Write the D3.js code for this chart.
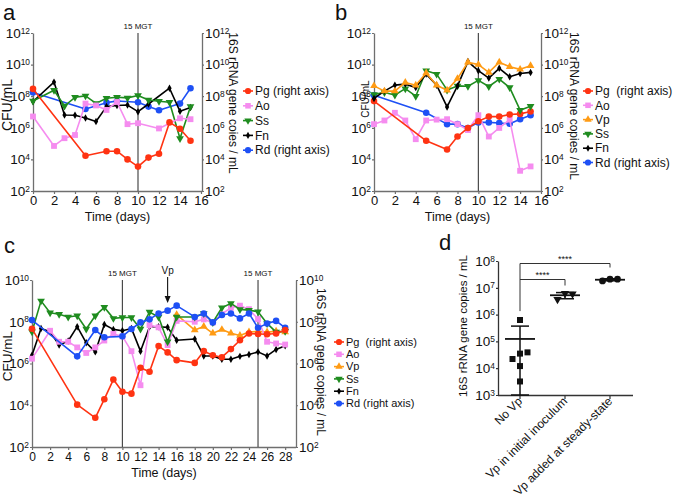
<!DOCTYPE html>
<html><head><meta charset="utf-8">
<script src="https://cdn.jsdelivr.net/npm/d3@7"></script>
<style>body{margin:0;background:#fff} svg{display:block} text{font-family:"Liberation Sans",Arial,Helvetica,sans-serif}</style>
</head><body><svg id="chart" width="674" height="499"></svg>
<script>
// ---------- Panel a ----------
const aPgDays = [0,5,7,8,9,10,11,12,13,14,15];
const aPgVals = [2.9e8,1.7e4,3.3e4,3.3e4,1.0e4,3.5e3,1.3e4,2.3e4,2.2e6,8.7e5,1.5e5];
const aAoDays = [0,2,3,4,5,6,7,8,9,10,12,14,15];
const aAoVals = [5.2e6,7.1e4,2.2e5,3.5e5,3.4e7,2.6e7,1.35e7,4.3e7,1.7e6,1.95e6,9.1e5,4.0e6,3.5e6];
const aSsDays = [0,2,3,4,5,6,7,8,9,10,11,12,13,14,15];
const aSsVals = [5.0e7,2.4e8,2.4e7,8.5e7,1.05e8,3.5e7,7.4e7,8.5e7,7.8e7,1.1e8,5.8e7,4.8e7,4.1e7,2.1e5,2.2e7];
const aFnDays = [0,2,3,4,5,6,7,8,9,10,11,13,14,15];
const aFnVals = [4.6e7,7.8e8,6.5e6,6.2e6,4.2e6,2.5e6,2.2e7,2.6e7,2.75e7,1.05e7,3.2e7,3.2e8,1.1e7,1.9e7];
const aRdDays = [0,5,7,8,10,11,12,14,15];
const aRdVals = [1.7e8,1.55e7,3.9e7,5.0e7,4.1e7,2.2e7,1.3e7,3.4e7,3.2e8];
const aLegend = ["Pg (right axis)","Ao","Ss","Fn","Rd (right axis)"];

// ---------- Panel b ----------
const bDays = [0,1,2,3,4,5,6,7,8,9,10,11,12,13,14,15];
const bVpVals = [4.5e8,2.1e8,2.1e8,7.4e8,5.0e8,2.9e9,5.0e8,2.4e8,1.3e9,1.4e10,1.0e10,3.2e9,1.4e10,7.4e9,5.0e9,8.5e9];
const bFnVals = [7.2e7,2.1e8,5.0e8,5.8e8,3.5e8,2.5e9,5.0e8,2.1e7,4.5e8,1.55e10,4.1e9,1.4e9,5.8e9,1.7e9,2.75e9,3.2e9];
const bSsVals = [1.3e8,1.7e8,1.2e8,3.0e8,1.0e8,4.1e9,2.5e9,2.5e8,4.5e8,4.3e8,1.0e9,4.1e8,1.2e9,3.5e8,1.3e7,2.3e7];
const bAoVals = [1.7e6,2.9e6,8.9e6,2.9e6,1.9e5,2.9e6,3.3e6,3.5e6,1.7e6,7.2e5,6.3e6,2.8e5,9.8e5,3.3e6,1.9e3,3.6e3];
const bRdDays = [0,5,7,8,9,10,11,12,13,14,15];
const bRdVals = [1.15e8,8.9e6,1.7e6,1.7e6,9.8e5,2.2e6,2.2e6,2.0e6,1.8e6,3.5e6,6.3e6];
const bPgDays = [0,5,7,8,9,10,11,12,13,14,15];
const bPgVals = [4.9e7,1.5e5,4.2e4,2.8e5,9.8e5,2.6e6,5.1e6,5.1e6,6.9e6,7.6e6,1.07e7];
const bLegend = ["Pg  (right axis)","Ao","Vp","Ss","Fn","Rd (right axis)"];

// ---------- Panel c ----------
const cSsDays = [0,1,2,3,4,5,6,7,8,9,10,11,12,13,14,15,16,18,19,20,21,22,23,24,25,26,27,28];
const cSsVals = [3.3e7,1.0e9,2.7e8,2.3e8,1.7e8,1.95e8,4.5e7,1.95e8,4.9e8,1.45e8,1.6e8,1.6e8,4.5e7,2.9e8,1.7e8,1.1e7,1.7e8,1.7e8,2.5e8,9.3e7,4.7e8,7.6e8,3.9e8,3.6e8,3.0e8,8.3e7,3.2e7,3.5e7];
const cRdDays = [0,5,7,8,10,11,12,13,14,15,16,18,19,20,21,22,23,24,25,26,27,28];
const cRdVals = [1.2e8,2.2e6,4.0e7,1.8e7,2.0e7,4.5e7,9.3e7,1.3e8,2.5e8,3.4e8,5.9e8,1.7e8,2.5e8,9.3e7,2.1e8,2.5e8,1.45e8,2.5e8,5.1e7,8.3e7,1.1e8,5.1e7];
const cFnDays = [0,1,2,3,4,5,6,7,8,9,10,11,12,13,14,15,16,18,19,20,21,22,23,24,25,26,27,28];
const cFnVals = [2.5e6,4.8e7,3.3e7,7.6e6,1.2e7,5.8e7,9.8e6,3.6e6,7.4e7,4.3e7,3.7e7,4.8e7,3.9e6,5.8e7,5.8e7,5.4e7,1.3e7,1.5e7,2.3e6,2.3e6,1.6e6,1.6e6,2.2e6,2.7e6,3.6e6,2.3e6,4.7e6,7.1e6];
const cAoDays = [0,2,3,4,5,6,7,8,9,10,11,12,13,14,15,16,18,19,20,21,22,23,24,25,26,27,28];
const cAoVals = [1.7e6,3.7e7,1.1e7,1.1e7,5.9e6,3.2e6,5.9e6,1.26e7,2.6e7,2.0e7,3.9e6,9.1e4,6.9e7,5.4e7,7.6e6,1.1e8,1.0e8,1.3e8,9.3e7,2.3e8,4.7e8,5.9e8,4.0e8,1.35e8,1.1e7,9.1e6,8.1e6];
const cVpDays = [16,18,19,20,21,22,23,24,25,26,27,28];
const cVpVals = [2.2e8,4.0e7,5.9e7,2.8e7,4.2e7,2.8e7,2.2e7,3.2e7,3.5e7,3.2e7,3.5e7,3.2e7];
const cPgDays = [0,5,7,8,9,10,11,12,13,14,15,16,18,19,20,21,22,23,24,25,26,27,28];
const cPgVals = [4.6e7,1.07e4,2.5e3,1.95e4,1.7e5,4.4e4,3.6e4,6.2e5,4.0e5,6.8e6,3.4e6,1.45e6,1.07e6,3.9e6,2.5e6,2.0e6,4.9e6,1.3e7,2.75e7,2.6e7,2.5e7,2.75e7,4.0e7];
const cLegend = ["Pg  (right axis)","Ao","Vp","Ss","Fn","Rd (right axis)"];

// ---------- Panel d ----------
const dCats = ["No Vp","Vp in initial inoculum","Vp added at steady-state"];
const dNoVp = [6.3e5,3.5e4,2.2e4,3.9e4,1.2e4,3.2e3];
const dInoc = [6.2e6,3.7e6,5.9e6];
const dSteady = [2.1e7,1.8e7,2.1e7];
const dStars = ["****","****"];

// tick labels
const ticksAB = [1e2,1e4,1e6,1e8,1e10,1e12];
const ticksC = [1e2,1e4,1e6,1e8,1e10];
const ticksD = [1e3,1e4,1e5,1e6,1e7,1e8];
const daysAB = d3.range(0,17,2);
const daysC = d3.range(0,29,2);

// ---------- styles ----------
const colors = {Pg:"#ff3312", Ao:"#f58cef", Vp:"#ff9b14", Ss:"#1f8c1f", Fn:"#000000", Rd:"#1e50f5"};
const sym = {Pg:d3.symbolCircle, Ao:d3.symbolSquare, Vp:d3.symbolTriangle, Ss:d3.symbolTriangle, Fn:d3.symbolDiamond, Rd:d3.symbolCircle};
const symSize = {Pg:34, Ao:34, Vp:26, Ss:26, Fn:16, Rd:34};
const AX = "#6f6f6f";
const svg = d3.select("#chart");

function marker(g, sp, x, y, scale=1) {
  g.append("path").attr("d", d3.symbol().type(sym[sp]).size(symSize[sp]*scale)())
    .attr("transform", `translate(${x},${y})` + (sp==="Ss" ? " rotate(180)" : ""))
    .attr("fill", colors[sp]);
}
function series(g, x, y, sp, days, vals) {
  const pts = days.map((d,i) => [x(d), y(vals[i])]);
  g.append("path").attr("d", d3.line()(pts)).attr("fill","none")
    .attr("stroke", colors[sp]).attr("stroke-width", 1.6).attr("stroke-linejoin","round");
  pts.forEach(p => marker(g, sp, p[0], p[1]));
}
function sup(g, fs) {
  g.selectAll(".tick text").each(function(d) {
    const t = d3.select(this); const e = Math.round(Math.log10(d));
    t.text(null).attr("font-size", fs).attr("fill","#111");
    t.append("tspan").text("10");
    t.append("tspan").attr("dy","-0.5em").attr("font-size", fs*0.62).text(e);
  });
}
function styleAxis(g, col) {
  g.attr("font-family", null);
  g.selectAll(".domain").attr("stroke", col).attr("stroke-width", 1.3);
  g.selectAll(".tick line").attr("stroke", col).attr("stroke-width", 1.2);
}
function txt(x, y, s, fs, opts={}) {
  const t = svg.append("text").attr("x", x).attr("y", y).attr("font-size", fs).attr("fill", "#111").text(s);
  if (opts.anchor) t.attr("text-anchor", opts.anchor);
  if (opts.rot) t.attr("transform", `rotate(${opts.rot},${x},${y})`);
  if (opts.pre) t.style("white-space","pre");
  return t;
}

function timePanel(cfg) {
  const x = d3.scaleLinear().domain(cfg.xdom).range(cfg.xr);
  const y = d3.scaleLog().domain(cfg.ydom).range(cfg.yr);
  const gl = svg.append("g").attr("transform", `translate(${cfg.xr[0]},0)`)
    .call(d3.axisLeft(y).tickValues(cfg.yticks).tickSize(2).tickSizeOuter(0).tickPadding(1));
  styleAxis(gl, AX); sup(gl, 13.5);
  const gr = svg.append("g").attr("transform", `translate(${cfg.rightX},0)`)
    .call(d3.axisRight(y).tickValues(cfg.yticks).tickSize(2).tickSizeOuter(0).tickPadding(1));
  styleAxis(gr, AX); sup(gr, 13.5);
  const gb = svg.append("g").attr("transform", `translate(0,${cfg.yr[0]})`)
    .call(d3.axisBottom(x).tickValues(cfg.xticks).tickSize(3).tickSizeOuter(0).tickPadding(2));
  styleAxis(gb, AX);
  gb.select(".domain").attr("d", `M${cfg.xr[0]},0.5H${cfg.rightX}`);
  gb.selectAll(".tick text").attr("font-size", cfg.xfs).attr("fill","#111");
  cfg.mgt.forEach(d => {
    svg.append("line").attr("x1", x(d)).attr("x2", x(d)).attr("y1", cfg.yr[1]).attr("y2", cfg.yr[0])
      .attr("stroke", "#4a4a4a").attr("stroke-width", 1.2);
    txt(x(d), cfg.yr[1] - 4, "15 MGT", 8, {anchor:"middle"});
  });
  const g = svg.append("g");
  cfg.series.forEach(s => series(g, x, y, s[0], s[1], s[2]));
  txt((cfg.xr[0]+cfg.rightX)/2, cfg.yr[0] + 30, "Time (days)", 12.5, {anchor:"middle"});
  txt(cfg.cfu[0], cfg.cfu[1], "CFU/mL", cfg.cfu[2], {anchor:"middle", rot:-90});
  txt(cfg.rl[0], cfg.rl[1], cfg.rlText, 12, {anchor:"middle", rot:90});
  txt(cfg.letter[0], cfg.letter[1], cfg.letter[2], 22);
  const lg = svg.append("g");
  cfg.legend.forEach((lab, i) => {
    const sp = lab.slice(0,2); const ly = cfg.leg[1] + i*cfg.leg[2];
    lg.append("line").attr("x1", cfg.leg[0]-5).attr("x2", cfg.leg[0]+5).attr("y1", ly).attr("y2", ly)
      .attr("stroke", colors[sp]).attr("stroke-width", 1.6);
    marker(lg, sp, cfg.leg[0], ly, 0.9);
    lg.append("text").attr("x", cfg.leg[0]+7).attr("y", ly).attr("dy","0.35em")
      .attr("font-size", cfg.leg[3]).attr("fill","#111").style("white-space","pre").text(lab);
  });
  return {x, y};
}

// Panel a
timePanel({
  xdom:[0,16], xr:[33,201], rightX:202, ydom:[1e2,1e12], yr:[191,33], yticks:ticksAB, xticks:daysAB, xfs:13,
  mgt:[10],
  series:[["Rd",aRdDays,aRdVals],["Fn",aFnDays,aFnVals],["Ss",aSsDays,aSsVals],["Ao",aAoDays,aAoVals],["Pg",aPgDays,aPgVals]],
  cfu:[12,105,14], rl:[229,103], rlText:"16S rRNA gene coies / mL", letter:[3,20,"a"],
  legend:aLegend, leg:[248,91,14.8,12]
});
// Panel b
timePanel({
  xdom:[0,16], xr:[374,541], rightX:541, ydom:[1e2,1e12], yr:[191,33], yticks:ticksAB, xticks:daysAB, xfs:13,
  mgt:[10],
  series:[["Rd",bRdDays,bRdVals],["Ao",bDays,bAoVals],["Pg",bPgDays,bPgVals],["Ss",bDays,bSsVals],["Fn",bDays,bFnVals],["Vp",bDays,bVpVals]],
  cfu:[369,99,10], rl:[570,106], rlText:"16S rRNA gene copies / mL", letter:[335,20,"b"],
  legend:bLegend, leg:[588,91,14.3,12]
});
// Panel c
const pc = timePanel({
  xdom:[0,29.2], xr:[32,296], rightX:296, ydom:[1e2,1e10], yr:[447,280], yticks:ticksC, xticks:daysC, xfs:12,
  mgt:[10,25],
  series:[["Fn",cFnDays,cFnVals],["Vp",cVpDays,cVpVals],["Ao",cAoDays,cAoVals],["Ss",cSsDays,cSsVals],["Rd",cRdDays,cRdVals],["Pg",cPgDays,cPgVals]],
  cfu:[12,356,13.5], rl:[317,362], rlText:"16S rRNA gene copies / mL", letter:[4,253,"c"],
  legend:cLegend, leg:[339,342,12.3,11]
});
// Vp arrow
{
  const vx = pc.x(15);
  txt(vx, 274, "Vp", 10, {anchor:"middle"});
  svg.append("line").attr("x1", vx).attr("x2", vx).attr("y1", 277).attr("y2", 298).attr("stroke","#111").attr("stroke-width",1.1);
  svg.append("path").attr("d", `M${vx-3},${296}L${vx},${303}L${vx+3},${296}Z`).attr("fill","#111");
}

// ---------- Panel d ----------
{
  const x = d3.scaleBand().domain(dCats).range([497.5,632.5]);
  const y = d3.scaleLog().domain([1e3,1e8]).range([395,261]);
  const cx = c => x(c) + x.bandwidth()/2;
  const gl = svg.append("g").attr("transform","translate(498,0)")
    .call(d3.axisLeft(y).tickValues(ticksD).tickSize(2).tickSizeOuter(0).tickPadding(1));
  styleAxis(gl, "#333"); sup(gl, 13.5);
  const gb = svg.append("g").attr("transform","translate(0,395)")
    .call(d3.axisBottom(x).tickSize(4).tickSizeOuter(0));
  styleAxis(gb, "#333");
  gb.selectAll(".tick text").attr("font-size", 12).attr("fill","#111")
    .attr("text-anchor","end").attr("dy", null).attr("y", 0)
    .attr("transform","translate(3,7) rotate(-45)");
  txt(467, 326, "16S rRNA gene copies / mL", 11.5, {anchor:"middle", rot:-90});
  txt(439, 250, "d", 22);

  const groups = [[dCats[0], dNoVp, d3.symbolSquare, 36],[dCats[1], dInoc, d3.symbolTriangle, 30],[dCats[2], dSteady, d3.symbolCircle, 36]];
  const g = svg.append("g");
  groups.forEach(([cat, vals, shape, sz], gi) => {
    const c = cx(cat);
    const placed = [];
    vals.forEach(v => {
      const py = y(v);
      for (const off of [0,-1,1,-2,2,-3,3]) {
        const px = c + off*7.5;
        if (!placed.some(p => Math.abs(p[0]-px) < 7 && Math.abs(p[1]-py) < 7)) { placed.push([px,py]); break; }
      }
    });
    placed.forEach(p => g.append("path").attr("d", d3.symbol().type(shape).size(sz)())
      .attr("transform", `translate(${p[0]},${p[1]})` + (gi===1 ? " rotate(180)" : "")).attr("fill","#111"));
    const m = d3.mean(vals), sd = d3.deviation(vals);
    const hi = y(m+sd), lo = (m-sd) > 1e3 ? y(m-sd) : y(1e3);
    g.append("line").attr("x1",c).attr("x2",c).attr("y1",hi).attr("y2",lo).attr("stroke","#111").attr("stroke-width",1.5);
    [hi,lo].forEach(yy => g.append("line").attr("x1",c-9).attr("x2",c+9).attr("y1",yy).attr("y2",yy).attr("stroke","#111").attr("stroke-width",1.5));
    g.append("line").attr("x1",c-15).attr("x2",c+15).attr("y1",y(m)).attr("y2",y(m)).attr("stroke","#111").attr("stroke-width",1.8);
  });
  const x0 = cx(dCats[0]);
  const legBottom = y(d3.mean(dNoVp)+d3.deviation(dNoVp)) - 15;
  const b1 = 263.5, b2 = 279.5;
  const bg = svg.append("g").attr("fill","none").attr("stroke","#333").attr("stroke-width",1);
  bg.append("path").attr("d", `M${x0},${legBottom}V${b1}H${cx(dCats[2])}V${b1+4}`);
  bg.append("path").attr("d", `M${x0},${b2}H${cx(dCats[1])}V${b2+6}`);
  txt((x0+cx(dCats[2]))/2, b1-2, dStars[0], 9, {anchor:"middle"});
  txt((x0+cx(dCats[1]))/2, b2-2, dStars[1], 9, {anchor:"middle"});
}
</script></body></html>
